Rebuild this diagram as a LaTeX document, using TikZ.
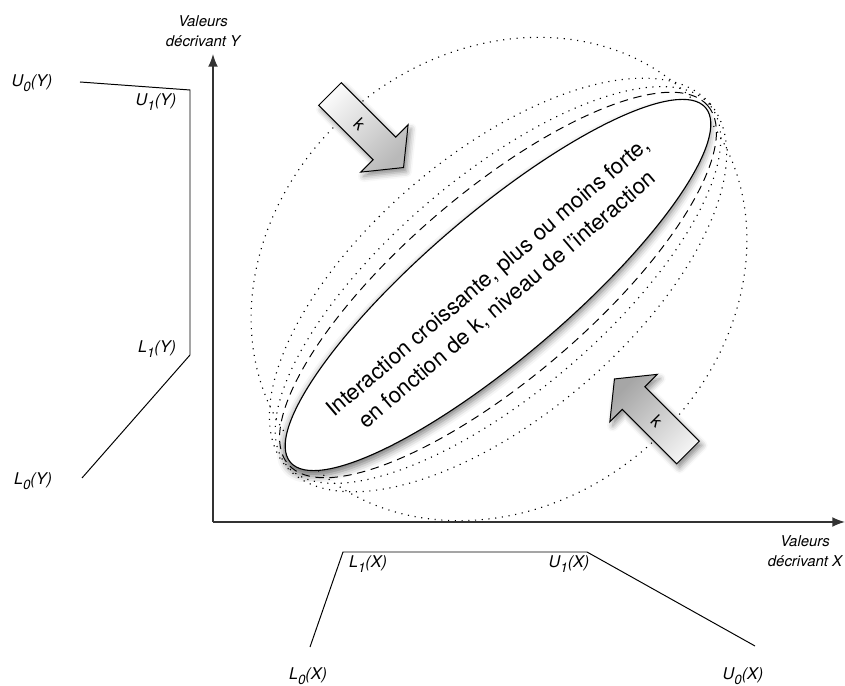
\documentclass[tikz,border=0pt]{standalone}
\usepackage{fontspec}
\setmainfont{TeX Gyre Heros}
\usetikzlibrary{arrows.meta,shadows.blur,positioning}
\newcommand{\indice}[1]{\raisebox{-3.2pt}{\fontsize{9.5}{10}\selectfont #1}}

\begin{document}
\begin{tikzpicture}[x=0.25mm,y=0.25mm,
  axe/.style={draw=black!80,line width=1.1pt,-{Latex[length=9pt,width=7pt]}},
  fm/.style={draw,line width=0.7pt},
  lab/.style={font=\fontsize{11.5}{13}\selectfont\itshape,inner sep=0pt},
  axlab/.style={font=\fontsize{10.6}{14}\selectfont\itshape,align=center,inner sep=0pt},
  pointille/.style={line width=0.8pt,dash pattern=on 0.8pt off 4pt},
  tirets/.style={line width=0.7pt,dash pattern=on 6pt off 4pt},
  karrow/.style={draw,line width=0.7pt,line join=miter,blur shadow={shadow xshift=2pt,shadow yshift=-3pt,shadow blur radius=4pt,shadow opacity=45}},
  kfont/.style={font=\fontsize{12}{14}\selectfont,inner sep=0pt}]
\useasboundingbox (0,0) rectangle (845,686);

% familles d'ellipses
\coordinate (C) at (498,401);
\coordinate (C2) at (499,407);
\draw[pointille,rotate around={40.5:(C2)}] (C2) ellipse [x radius=264,y radius=224];
\draw[pointille,rotate around={40.5:(C)}] (C) ellipse [x radius=279,y radius=131];
\draw[pointille,rotate around={40.5:(C)}] (C) ellipse [x radius=278,y radius=108];
\draw[tirets,rotate around={40.5:(C)}] (C) ellipse [x radius=276,y radius=93];
\draw[line width=0.8pt,fill=white,rotate around={40.5:(C)},
  blur shadow={shadow xshift=-1pt,shadow yshift=-4pt,shadow blur radius=5pt,shadow opacity=55}]
  (C) ellipse [x radius=273,y radius=72];
\node[rotate=40.5,align=center,font=\fontsize{15.8}{21}\selectfont] (txt) at (498,397)
  {Interaction croissante, plus ou moins forte,\\en fonction de k, niveau de l'interaction};

% fleches k
\begin{scope}[shift={(330,592)},rotate=-45]
\draw[karrow,top color=gray!5,bottom color=gray!55,shading angle=45]
  (0,16) -- (77,16) -- (77,33.5) -- (104,0) -- (77,-33.5) -- (77,-16) -- (0,-16) -- cycle;
\node[kfont,rotate=-45] (k1) at (42,0) {k};
\end{scope}
\begin{scope}[shift={(688,233.5)},rotate=135]
\draw[karrow,top color=gray!70,bottom color=gray!10,shading angle=45]
  (0,16) -- (77,16) -- (77,33.5) -- (104,0) -- (77,-33.5) -- (77,-16) -- (0,-16) -- cycle;
\node[kfont,rotate=-45] (k2) at (44,0) {k};
\end{scope}

% axes
\coordinate (O) at (213,164);
\coordinate (ytip) at (213,632);
\coordinate (xtip) at (845,164);
\draw[axe] (O) -- (ytip);
\draw[axe] (O) -- (xtip);
\node[axlab] (ylab) at (203,655) {Valeurs\\décrivant Y};
\node[axlab] (xlab) at (805,135) {Valeurs\\décrivant X};

% fonction sur Y
\coordinate (u0y) at (80,604);
\coordinate (u1y) at (190,596);
\coordinate (l1y) at (190,331);
\coordinate (l0y) at (82,208);
\draw[fm] (u0y) -- (u1y) -- (l1y) -- (l0y);
\node[lab] (U0Y) at (32,603) {U\indice{0}(Y)};
\node[lab] (U1Y) at (156,584) {U\indice{1}(Y)};
\node[lab] (L1Y) at (157,337) {L\indice{1}(Y)};
\node[lab] (L0Y) at (33,205) {L\indice{0}(Y)};

% fonction sur X
\coordinate (l0x) at (310,39);
\coordinate (l1x) at (343,134);
\coordinate (u1x) at (587,134);
\coordinate (u0x) at (755,40);
\draw[fm] (l0x) -- (l1x) -- (u1x) -- (u0x);
\node[lab] (L1X) at (368,122) {L\indice{1}(X)};
\node[lab] (U1X) at (569,122) {U\indice{1}(X)};
\node[lab] (L0X) at (308,10) {L\indice{0}(X)};
\node[lab] (U0X) at (743,10) {U\indice{0}(X)};
\end{tikzpicture}
\end{document}
